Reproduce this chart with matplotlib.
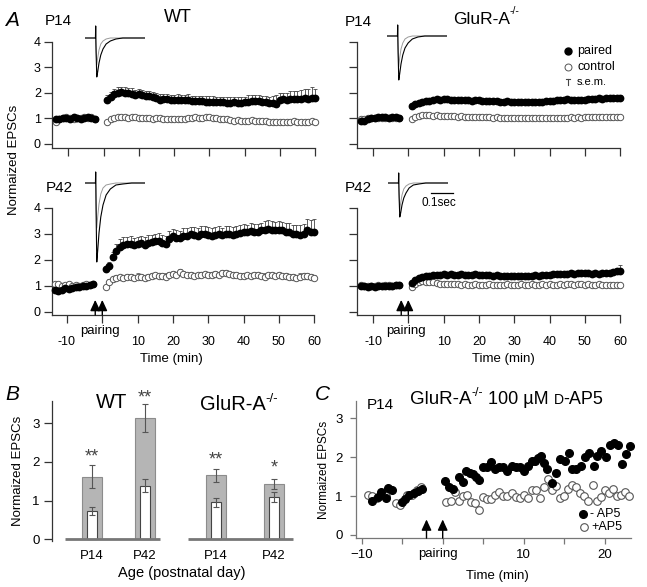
import numpy as np
import matplotlib
matplotlib.use('Agg')
import matplotlib.pyplot as plt

plt.rcParams['font.family'] = ['Liberation Sans', 'DejaVu Sans']

# ---------------- data ----------------
pre_time = np.arange(-13.5, -2.0, 1.0)
post_time = np.arange(1, 61)

wt14_paired_pre = [0.98, 0.95, 1.0, 1.02, 0.97, 1.03, 1.0, 0.98, 1.02, 1.04, 1.0, 0.98]
wt14_control_pre = [0.85, 0.95, 1.0, 1.05, 1.0, 0.98, 1.02, 1.0, 1.05, 1.0, 1.03, 0.97]
wt14_paired_post = [1.72, 1.84, 1.93, 2.0, 2.02, 2.0, 1.98, 1.96, 1.92, 1.93,
                    1.9, 1.88, 1.86, 1.82, 1.78, 1.72, 1.74, 1.76, 1.72, 1.70,
                    1.73, 1.72, 1.70, 1.71, 1.68, 1.67, 1.66, 1.68, 1.65, 1.64,
                    1.63, 1.65, 1.62, 1.63, 1.61, 1.60, 1.62, 1.60, 1.61, 1.63,
                    1.65, 1.68, 1.66, 1.67, 1.65, 1.62, 1.60, 1.58, 1.55, 1.70,
                    1.74, 1.72, 1.75, 1.77, 1.76, 1.74, 1.78, 1.77, 1.80, 1.78]
wt14_paired_sem = [0.18, 0.2, 0.2, 0.22, 0.2, 0.21, 0.2, 0.22, 0.2, 0.22,
                   0.2, 0.2, 0.22, 0.2, 0.2, 0.22, 0.22, 0.2, 0.2, 0.22,
                   0.2, 0.2, 0.22, 0.22, 0.2, 0.21, 0.22, 0.2, 0.22, 0.22,
                   0.23, 0.2, 0.22, 0.21, 0.22, 0.22, 0.2, 0.22, 0.24, 0.22,
                   0.25, 0.22, 0.24, 0.22, 0.22, 0.24, 0.25, 0.28, 0.35, 0.3,
                   0.25, 0.28, 0.3, 0.3, 0.32, 0.35, 0.35, 0.38, 0.42, 0.38]
wt14_control_post = [0.86, 0.95, 1.0, 1.04, 1.05, 1.04, 1.02, 1.05, 1.03, 1.02,
                     1.0, 1.02, 1.0, 0.98, 1.0, 1.01, 0.98, 0.97, 0.98, 0.97,
                     0.96, 0.98, 0.97, 1.0, 1.02, 1.04, 1.02, 1.0, 1.03, 1.04,
                     1.02, 1.0, 0.98, 0.97, 0.95, 0.93, 0.9, 0.92, 0.9, 0.88,
                     0.9, 0.92, 0.9, 0.88, 0.9, 0.88, 0.85, 0.84, 0.83, 0.85,
                     0.84, 0.86, 0.85, 0.88, 0.86, 0.84, 0.85, 0.86, 0.87, 0.86]

gl14_paired_pre = [0.88, 0.9, 0.95, 1.0, 1.02, 1.04, 1.03, 1.04, 1.02, 1.03, 1.04, 1.02]
gl14_control_pre = [0.95, 0.97, 1.0, 1.02, 1.0, 1.01, 1.0, 1.02, 1.0, 1.01, 1.0, 0.99]
gl14_paired_post = [1.48, 1.55, 1.6, 1.64, 1.67, 1.68, 1.72, 1.74, 1.73, 1.75,
                    1.74, 1.72, 1.73, 1.71, 1.7, 1.72, 1.7, 1.69, 1.71, 1.7,
                    1.69, 1.68, 1.67, 1.66, 1.67, 1.65, 1.64, 1.66, 1.65, 1.63,
                    1.64, 1.62, 1.64, 1.63, 1.62, 1.64, 1.63, 1.65, 1.66, 1.67,
                    1.68, 1.7, 1.72, 1.73, 1.75, 1.73, 1.72, 1.71, 1.73, 1.72,
                    1.74, 1.75, 1.77, 1.78, 1.76, 1.78, 1.8, 1.79, 1.8, 1.8]
gl14_paired_sem = [0.06] * 55 + [0.07, 0.08, 0.08, 0.1, 0.1]
gl14_control_post = [0.98, 1.05, 1.1, 1.12, 1.13, 1.12, 1.1, 1.11, 1.09, 1.08,
                     1.08, 1.07, 1.08, 1.06, 1.07, 1.05, 1.06, 1.04, 1.05, 1.04,
                     1.03, 1.04, 1.03, 1.02, 1.03, 1.01, 1.02, 1.0, 1.01, 1.0,
                     1.0, 0.99, 1.0, 1.0, 0.99, 1.0, 1.01, 1.0, 0.99, 1.0,
                     1.01, 1.0, 1.02, 1.01, 1.02, 1.03, 1.02, 1.03, 1.02, 1.03,
                     1.04, 1.03, 1.05, 1.04, 1.05, 1.06, 1.05, 1.06, 1.05, 1.06]

wt42_paired_pre = [0.85, 0.8, 0.85, 0.9, 0.88, 0.92, 0.93, 0.95, 0.97, 0.98, 1.02, 1.08]
wt42_control_pre = [1.05, 1.08, 1.0, 1.02, 1.05, 1.0, 1.03, 1.0, 1.02, 1.05, 1.03, 1.08]
wt42_paired_post = [1.63, 1.75, 2.1, 2.35, 2.5, 2.56, 2.6, 2.6, 2.55, 2.6,
                    2.62, 2.58, 2.65, 2.68, 2.7, 2.72, 2.65, 2.6, 2.8, 2.9,
                    2.85, 2.82, 2.9, 2.92, 2.98, 2.95, 2.92, 3.0, 2.98, 2.95,
                    2.92, 2.95, 2.98, 2.95, 3.0, 2.98, 2.96, 3.0, 3.02, 3.08,
                    3.05, 3.1, 3.08, 3.05, 3.12, 3.15, 3.18, 3.15, 3.12, 3.15,
                    3.12, 3.08, 3.05, 3.0, 2.98, 2.95, 2.98, 3.15, 3.08, 3.06]
wt42_paired_sem = [0.1, 0.15, 0.2, 0.25, 0.28, 0.3, 0.28, 0.3, 0.3, 0.28,
                   0.3, 0.28, 0.3, 0.28, 0.3, 0.3, 0.28, 0.3, 0.3, 0.28,
                   0.3, 0.28, 0.3, 0.3, 0.28, 0.3, 0.3, 0.28, 0.3, 0.3,
                   0.28, 0.3, 0.3, 0.28, 0.3, 0.3, 0.28, 0.3, 0.32, 0.3,
                   0.3, 0.32, 0.3, 0.32, 0.3, 0.32, 0.33, 0.32, 0.33, 0.32,
                   0.33, 0.32, 0.35, 0.33, 0.35, 0.38, 0.4, 0.42, 0.45, 0.5]
wt42_control_post = [0.95, 1.15, 1.25, 1.3, 1.32, 1.3, 1.35, 1.32, 1.3, 1.35,
                     1.33, 1.3, 1.35, 1.38, 1.4, 1.36, 1.38, 1.35, 1.42, 1.45,
                     1.42, 1.52, 1.45, 1.4, 1.42, 1.38, 1.4, 1.42, 1.44, 1.4,
                     1.42, 1.45, 1.4, 1.48, 1.5, 1.45, 1.42, 1.4, 1.38, 1.36,
                     1.4, 1.38, 1.42, 1.4, 1.38, 1.35, 1.4, 1.42, 1.38, 1.4,
                     1.36, 1.38, 1.35, 1.33, 1.3, 1.35, 1.38, 1.36, 1.35, 1.3]
wt42_control_sem = [0.08, 0.1, 0.1, 0.12, 0.1, 0.12, 0.1, 0.12, 0.1, 0.12,
                    0.1, 0.12, 0.1, 0.12, 0.1, 0.12, 0.1, 0.12, 0.1, 0.12,
                    0.1, 0.12, 0.1, 0.12, 0.1, 0.12, 0.1, 0.12, 0.1, 0.12,
                    0.1, 0.12, 0.1, 0.12, 0.1, 0.12, 0.1, 0.12, 0.1, 0.12,
                    0.1, 0.12, 0.1, 0.12, 0.1, 0.12, 0.1, 0.12, 0.1, 0.12,
                    0.1, 0.12, 0.1, 0.12, 0.1, 0.12, 0.1, 0.12, 0.1, 0.12]

gl42_paired_pre = [1.0, 0.97, 0.95, 0.97, 0.96, 0.98, 0.97, 0.98, 1.0, 0.99, 1.02, 1.04]
gl42_control_pre = [1.02, 1.0, 0.98, 1.0, 1.0, 1.02, 1.0, 1.01, 1.02, 1.0, 1.03, 1.02]
gl42_paired_post = [1.1, 1.2, 1.28, 1.33, 1.36, 1.38, 1.4, 1.41, 1.42, 1.43,
                    1.42, 1.43, 1.42, 1.41, 1.43, 1.42, 1.41, 1.42, 1.43, 1.41,
                    1.4, 1.42, 1.4, 1.38, 1.39, 1.37, 1.38, 1.36, 1.37, 1.36,
                    1.37, 1.36, 1.38, 1.37, 1.38, 1.39, 1.38, 1.4, 1.41, 1.42,
                    1.43, 1.44, 1.45, 1.44, 1.46, 1.47, 1.46, 1.48, 1.47, 1.49,
                    1.48, 1.46, 1.47, 1.45, 1.47, 1.48, 1.5, 1.52, 1.55, 1.56]
gl42_paired_sem = [0.05] * 57 + [0.08, 0.12, 0.22]
gl42_control_post = [0.96, 1.08, 1.14, 1.16, 1.15, 1.13, 1.12, 1.1, 1.08, 1.07,
                     1.06, 1.07, 1.05, 1.06, 1.04, 1.05, 1.04, 1.03, 1.05, 1.04,
                     1.03, 1.04, 1.05, 1.03, 1.04, 1.03, 1.04, 1.05, 1.04, 1.03,
                     1.04, 1.05, 1.04, 1.03, 1.05, 1.04, 1.03, 1.05, 1.04, 1.05,
                     1.04, 1.03, 1.05, 1.04, 1.06, 1.05, 1.04, 1.06, 1.05, 1.04,
                     1.05, 1.04, 1.03, 1.05, 1.04, 1.03, 1.04, 1.02, 1.03, 1.02]

# example EPSC traces (time in s, amplitude in arbitrary units)
trace_time = [0, 0.047, 0.048, 0.049, 0.050, 0.053, 0.057, 0.063, 0.071, 0.081,
              0.095, 0.114, 0.139, 0.17, 0.21, 0.27]
wt14_trace_paired = [0, 0, 12, -4, -15, -39, -34, -25, -17, -11, -6, -3, -1, 0, 0, 0]
wt14_trace_control = [0, 0, 12, -4, -12, -27, -20, -12, -6, -3, -1, 0, 0, 0, 0, 0]
gl14_trace_paired = [0, 0, 11, -4, -17, -44, -38, -28, -19, -12, -7, -3, -1, 0, 0, 0]
gl14_trace_control = [0, 0, 11, -4, -13, -31, -22, -13, -7, -3, -1, 0, 0, 0, 0, 0]
wt42_trace_paired = [0, 0, 11, -6, -30, -79, -68, -50, -34, -22, -12, -6, -2, -1, 0, 0]
wt42_trace_control = [0, 0, 11, -6, -20, -45, -34, -21, -11, -5, -2, -1, 0, 0, 0, 0]
gl42_trace_paired = [0, 0, 10, -4, -14, -34, -30, -22, -15, -10, -5, -2, -1, 0, 0, 0]
gl42_trace_control = [0, 0, 10, -4, -11, -27, -20, -12, -6, -3, -1, 0, 0, 0, 0, 0]

# panel B
b_labels = ['P14', 'P42', 'P14', 'P42']
b_paired = [1.62, 3.13, 1.66, 1.43]
b_paired_sem = [0.29, 0.36, 0.17, 0.12]
b_control = [0.74, 1.39, 0.96, 1.09]
b_control_sem = [0.10, 0.17, 0.12, 0.125]
b_stars = ['**', '**', '**', '*']
b_star_y = [2.12, 3.65, 2.05, 1.84]

# panel C
c_minus_t = [-8.7, -8.0, -7.6, -7.0, -6.8, -6.3, -5.0, -4.6, -4.1, -3.6, -3.1, -2.6,
             0.3, 0.8, 1.3, 2.0, 2.5, 2.9, 3.4, 3.8, 4.1, 4.5, 5.0, 5.5, 6.0, 6.4,
             6.9, 7.4, 7.9, 8.5, 9.0, 9.5, 10.0, 10.5, 11.0, 11.4, 11.8, 12.1, 12.5,
             12.9, 13.5, 14.0, 14.5, 15.1, 15.6, 16.0, 16.5, 17.1, 17.6, 18.1, 18.7,
             19.1, 19.6, 20.1, 20.6, 21.1, 21.6, 22.1, 22.6, 23.1]
c_minus_v = [0.87, 0.98, 1.11, 0.95, 1.2, 1.15, 0.85, 0.93, 1.03, 1.08, 1.13, 1.18,
             1.39, 1.24, 1.18, 1.48, 1.35, 1.65, 1.6, 1.56, 1.5, 1.41, 1.74, 1.74, 1.87,
             1.69, 1.74, 1.74, 1.65, 1.78, 1.76, 1.74, 1.65, 1.78, 1.91, 1.9, 1.97, 2.03,
             1.86, 1.69, 1.33, 1.6, 1.95, 1.9, 2.12, 1.69, 1.69, 1.77, 2.0, 2.12, 1.77,
             2.03, 2.16, 2.0, 2.31, 2.37, 2.31, 1.83, 2.08, 2.29]
c_plus_t = [-9.2, -8.7, -8.1, -7.5, -7.0, -5.8, -5.3, -4.4, -3.8, -3.2, -2.7,
            0.4, 1.0, 1.5, 2.0, 2.5, 3.0, 3.5, 4.0, 4.5, 5.0, 5.5, 6.0, 6.5, 7.0,
            7.5, 8.0, 8.5, 9.0, 9.5, 10.0, 10.5, 11.0, 11.5, 12.0, 12.5, 13.0, 13.5,
            14.0, 14.5, 15.0, 15.5, 16.0, 16.5, 17.0, 17.5, 18.0, 18.5, 19.0, 19.5,
            20.0, 20.5, 21.0, 21.5, 22.0, 22.5, 23.0]
c_plus_v = [1.03, 1.0, 0.94, 1.04, 1.0, 0.81, 0.77, 1.03, 1.04, 1.16, 1.24,
            0.86, 0.88, 1.11, 0.87, 1.0, 1.03, 0.86, 0.83, 0.64, 0.97, 0.93, 0.93,
            1.03, 1.11, 0.99, 0.99, 1.09, 0.97, 0.94, 1.03, 0.94, 1.16, 1.16, 0.94,
            1.24, 1.43, 1.16, 1.26, 0.94, 1.01, 1.17, 1.29, 1.23, 1.07, 1.01, 0.88,
            1.29, 0.88, 0.97, 1.16, 1.07, 1.17, 0.99, 1.04, 1.11, 1.0]

pairing_times = [-2, 0]

# ---------------- figure ----------------
W, H = 647, 587
fig = plt.figure(figsize=(W / 100, H / 100), dpi=100)
SP = '#333333'


def px_axes(left, top, width, height, **kw):
    return fig.add_axes([left / W, 1 - (top + height) / H, width / W, height / H], **kw)


def data_axes(x0, sx, y0, sy, xlim, ylim):
    left = x0 + xlim[0] * sx
    width = (xlim[1] - xlim[0]) * sx
    top = y0 - ylim[1] * sy
    height = (ylim[1] - ylim[0]) * sy
    ax = px_axes(left, top, width, height)
    ax.set_xlim(xlim)
    ax.set_ylim(ylim)
    ax.patch.set_alpha(0)
    for s in ['top', 'right']:
        ax.spines[s].set_visible(False)
    for s in ['left', 'bottom']:
        ax.spines[s].set_color(SP)
        ax.spines[s].set_linewidth(0.9)
    return ax


def timecourse(ax, pc_pre, ct_pre, pc_post, ct_post, p_sem, c_sem=None,
               xlabels=False, ylabels=False, xlabel_t=27):
    ax.spines['bottom'].set_bounds(ax.get_xlim()[0], 60)
    ax.plot(pre_time, ct_pre, 'o', ms=4.6, mfc='white', mec='#555555', mew=0.7,
            clip_on=False, zorder=3)
    if c_sem is not None:
        ax.errorbar(post_time, ct_post, yerr=[np.zeros(len(c_sem)), c_sem], fmt='none',
                    ecolor='#666666', elinewidth=0.6, capsize=1.6, capthick=0.6, zorder=2)
    ax.plot(post_time, ct_post, 'o', ms=4.6, mfc='white', mec='#555555', mew=0.7,
            clip_on=False, zorder=3)
    ax.errorbar(post_time, pc_post, yerr=[np.zeros(len(p_sem)), p_sem], fmt='none',
                ecolor='#444444', elinewidth=0.6, capsize=1.6, capthick=0.6, zorder=2)
    ax.plot(pre_time, pc_pre, 'o', ms=4.6, color='black', clip_on=False, zorder=4)
    ax.plot(post_time, pc_post, 'o', ms=4.6, color='black', clip_on=False, zorder=4)
    ax.set_xticks([-10, 0, 10, 20, 30, 40, 50, 60])
    ax.set_yticks([0, 1, 2, 3, 4])
    ax.tick_params(axis='x', direction='out', length=6, width=0.9, color=SP,
                   labelsize=9, pad=9)
    ax.tick_params(axis='y', direction='out', length=6, width=0.9, color=SP,
                   labelsize=9, pad=2)
    if xlabels:
        ax.set_xticklabels(['-10', '', '10', '20', '30', '40', '50', '60'])
        ax.text(-0.6, -0.5, 'pairing', ha='center', va='top', fontsize=9.5)
        ax.text(xlabel_t, -1.6, 'Time (min)', ha='center', va='top', fontsize=9.5)
        for t in pairing_times:
            ax.annotate('', xy=(t, 0.45), xytext=(t, ax.get_ylim()[0]),
                        arrowprops=dict(arrowstyle='-|>,head_length=0.65,head_width=0.3',
                                        color='black', lw=1.0, shrinkA=0, shrinkB=0))
    else:
        ax.set_xticklabels([])
    if not ylabels:
        ax.set_yticklabels([])


axA1 = data_axes(103.5, 3.527, 143.5, 25.4, (-14.6, 60.6), (-0.17, 4.0))
timecourse(axA1, wt14_paired_pre, wt14_control_pre, wt14_paired_post, wt14_control_post,
           wt14_paired_sem, ylabels=True)
axA2 = data_axes(408.3, 3.53, 143.5, 25.4, (-14.5, 60.6), (-0.17, 4.0))
timecourse(axA2, gl14_paired_pre, gl14_control_pre, gl14_paired_post, gl14_control_post,
           gl14_paired_sem)
axA3 = data_axes(102.3, 3.53, 311.6, 26.0, (-14.3, 60.6), (-0.13, 4.0))
timecourse(axA3, wt42_paired_pre, wt42_control_pre, wt42_paired_post, wt42_control_post,
           wt42_paired_sem, wt42_control_sem, xlabels=True, ylabels=True, xlabel_t=19.5)
axA4 = data_axes(408.3, 3.53, 311.6, 26.0, (-14.5, 60.6), (-0.13, 4.0))
timecourse(axA4, gl42_paired_pre, gl42_control_pre, gl42_paired_post, gl42_control_post,
           gl42_paired_sem, xlabels=True, xlabel_t=26.8)

# trace insets
for (x0, base, tp, tc) in [(85, 38, wt14_trace_paired, wt14_trace_control),
                           (387, 36, gl14_trace_paired, gl14_trace_control),
                           (85, 183, wt42_trace_paired, wt42_trace_control),
                           (388, 183, gl42_trace_paired, gl42_trace_control)]:
    ia = px_axes(x0, base - 15, 60, 100)
    ia.set_xlim(0, 0.27)
    ia.set_ylim(-85, 15)
    ia.axis('off')
    ia.plot(trace_time, tc, color='#9a9a9a', lw=0.7)
    ia.plot(trace_time, tp, color='black', lw=0.8)

# ---------------- panel B ----------------
axB = data_axes(92, 55, 539.3, 38.67, (-0.727, 3.78), (-0.05, 3.58))
axB.spines['bottom'].set_visible(False)
pos = [0, 0.96, 2.25, 3.31]
axB.bar(pos, b_paired, width=0.364, color='#b5b5b5', edgecolor='#8c8c8c', lw=0.8, zorder=2)
axB.errorbar(pos, b_paired, yerr=b_paired_sem, fmt='none', ecolor='#555555',
             elinewidth=0.8, capsize=2, capthick=0.8, zorder=3)
axB.bar(pos, b_control, width=0.18, color='white', edgecolor='#444444', lw=0.8, zorder=4)
axB.errorbar(pos, b_control, yerr=b_control_sem, fmt='none', ecolor='#555555',
             elinewidth=0.8, capsize=2, capthick=0.8, zorder=5)
axB.plot([-0.49, 1.24], [0, 0], color='#777777', lw=2, solid_capstyle='butt', zorder=6)
axB.plot([1.75, 3.65], [0, 0], color='#777777', lw=2, solid_capstyle='butt', zorder=6)
for p, s, y in zip(pos, b_stars, b_star_y):
    axB.text(p, y, s, ha='center', va='center', fontsize=13, color='#444444')
axB.set_yticks([0, 1, 2, 3])
axB.set_xticks(pos)
axB.set_xticklabels(b_labels)
axB.tick_params(axis='x', length=0, labelsize=9.5, pad=6)
axB.tick_params(axis='y', direction='out', length=6, width=0.9, color=SP, labelsize=9.5, pad=3)
axB.set_ylabel('Normaized EPSCs', fontsize=9.5, labelpad=6)

# ---------------- panel C ----------------
axC = data_axes(442.7, 8.1, 535, 38.9, (-10.7, 23.3), (-0.08, 3.45))
axC.spines['left'].set_color('#777777')
axC.spines['bottom'].set_color('#777777')
axC.plot(c_plus_t, c_plus_v, 'o', ms=5.5, mfc='white', mec='#555555', mew=0.8,
         clip_on=False, zorder=3)
axC.plot(c_minus_t, c_minus_v, 'o', ms=5.5, color='black', clip_on=False, zorder=4)
axC.set_xticks([-10, 10, 20])
axC.set_xticks([-5, 0, 5, 15], minor=True)
axC.set_yticks([0, 1, 2, 3])
axC.tick_params(which='both', axis='x', direction='out', length=4.5, width=0.9,
                color='#777777', labelsize=9.5, pad=3)
axC.tick_params(axis='y', direction='out', length=4.5, width=0.9, color='#777777',
                labelsize=9.5, pad=5)
axC.set_ylabel('Normaized EPSCs', fontsize=8.5, labelpad=4)
axC.text(-0.6, -0.33, 'pairing', ha='center', va='top', fontsize=9.5)
axC.text(6.8, -0.9, 'Time (min)', ha='center', va='top', fontsize=9.5)
for t in pairing_times:
    axC.annotate('', xy=(t, 0.4), xytext=(t, -0.08),
                 arrowprops=dict(arrowstyle='-|>,head_length=0.65,head_width=0.3',
                                 color='black', lw=1.0, shrinkA=0, shrinkB=0))

# ---------------- overlay texts ----------------
ov = fig.add_axes([0, 0, 1, 1], zorder=10)
ov.set_xlim(0, W)
ov.set_ylim(H, 0)
ov.axis('off')
ov.patch.set_alpha(0)
renderer = fig.canvas.get_renderer()


def seq_text(x, y, parts, center=False):
    texts = []
    cx = x
    for s, size, dy in parts:
        t = ov.text(cx, y + dy, s, fontsize=size, ha='left', va='baseline')
        cx += t.get_window_extent(renderer).width
        texts.append(t)
    if center:
        shift = (cx - x) / 2
        for t in texts:
            t.set_x(t.get_position()[0] - shift)


ov.text(12, 20, 'A', fontsize=15, style='italic', ha='center', va='center')
ov.text(12, 395, 'B', fontsize=15, style='italic', ha='center', va='center')
ov.text(322, 395, 'C', fontsize=15, style='italic', ha='center', va='center')

ov.text(58, 21, 'P14', fontsize=11, ha='center', va='center')
ov.text(358, 22, 'P14', fontsize=11, ha='center', va='center')
ov.text(59, 188, 'P42', fontsize=11, ha='center', va='center')
ov.text(358, 188, 'P42', fontsize=11, ha='center', va='center')
ov.text(178, 17, 'WT', fontsize=13, ha='center', va='center')
seq_text(453, 24, [('GluR-A', 12.5, 0), ('-/-', 7.5, -10)])
ov.text(14, 160, 'Normaized EPSCs', fontsize=9.5, rotation=90, ha='center', va='center')

# legend A
ov.plot(568, 51, 'o', ms=5, color='black')
ov.text(577, 51, 'paired', fontsize=9, va='center')
ov.plot(568, 67, 'o', ms=5, mfc='white', mec='#555555', mew=0.7)
ov.text(577, 67, 'control', fontsize=9, va='center')
ov.plot([568, 568], [79, 85], color='#444444', lw=0.8)
ov.plot([566, 570], [79, 79], color='#444444', lw=0.8)
ov.text(577, 82, 's.e.m.', fontsize=8, va='center')

# scale bar
ov.plot([431, 453], [193, 193], color='black', lw=0.9)
ov.text(439, 203, '0.1sec', fontsize=8.5, ha='center', va='center')

# panel B titles
ov.text(112, 403, 'WT', fontsize=14.5, ha='center', va='center')
seq_text(200, 410, [('GluR-A', 14.5, 0), ('-/-', 9.5, -8)])
ov.text(182, 573, 'Age (postnatal day)', fontsize=10.5, ha='center', va='center')

# panel C title
seq_text(410, 404, [('GluR-A', 13.5, 0), ('-/-', 9, -8), (' 100 \u00b5M ', 13, 0),
                    ('D', 10, 0), ('-AP5', 13, 0)])
ov.text(380, 405, 'P14', fontsize=11, ha='center', va='center')
ov.plot(583, 514, 'o', ms=5.5, color='black')
ov.text(590, 514, '- AP5', fontsize=9, va='center')
ov.plot(584, 527, 'o', ms=5.5, mfc='white', mec='#555555', mew=0.8)
ov.text(591, 527, '+AP5', fontsize=9, va='center')

fig.savefig('out.png', dpi=100)
